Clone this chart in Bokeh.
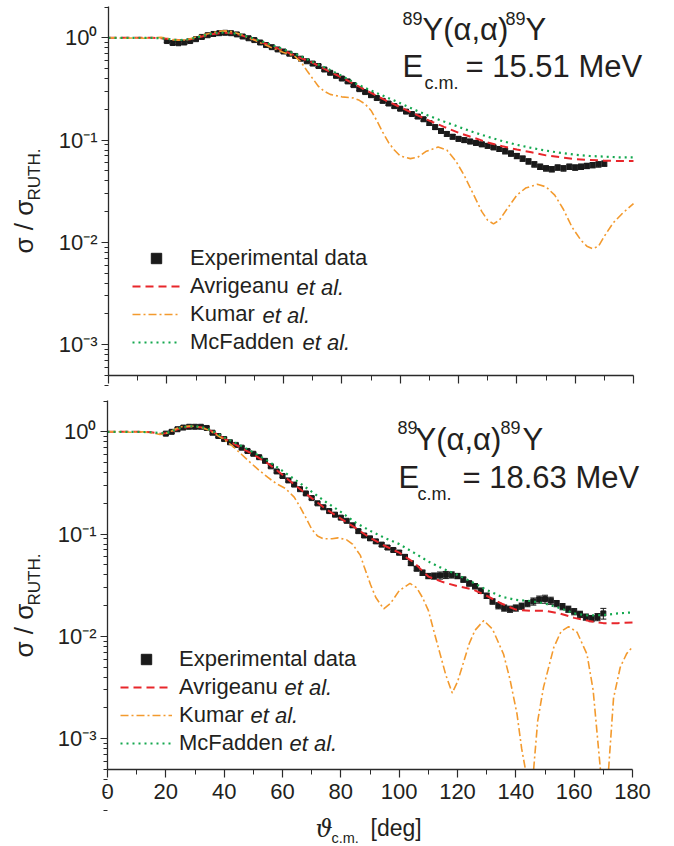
import numpy as np
from bokeh.plotting import figure
from bokeh.layouts import column
from bokeh.models import (ColumnDataSource, Whisker, TeeHead, Label, Legend, LegendItem,
                          FixedTicker, Range1d, CustomJSTickFormatter, LinearAxis, LogAxis)
from bokeh.embed import file_html
from bokeh.resources import INLINE

# ---------------- data ----------------
X_TICKS = [0, 20, 40, 60, 80, 100, 120, 140, 160, 180]
X_MINOR = [10, 30, 50, 70, 90, 110, 130, 150, 170]
Y_TICKS = [1e-3, 1e-2, 1e-1, 1.0]
Y_TICK_LABELS = ["10\u207b\u00b3", "10\u207b\u00b2", "10\u207b\u00b9", "10\u2070"]
Y_MINOR = [k * 10.0 ** e for e in (-4, -3, -2, -1, 0) for k in range(2, 10)]
X_LIMITS = (0, 180)
Y_LIMITS_LOG = (-3.3, 0.306)

# --- 15.51 MeV (top) experimental data
TOP_EXP_THETA = list(range(20, 172, 2))
TOP_EXP = [0.93, 0.89, 0.885, 0.90, 0.93, 0.97, 1.02, 1.06, 1.09, 1.11,
           1.12, 1.11, 1.08, 1.03, 0.99, 0.95, 0.90, 0.85, 0.81, 0.77,
           0.735, 0.70, 0.665, 0.625, 0.59, 0.56, 0.53, 0.49, 0.455, 0.425,
           0.40, 0.375, 0.345, 0.315, 0.295, 0.275, 0.258, 0.242, 0.228, 0.215,
           0.203, 0.19, 0.18, 0.17, 0.16, 0.147, 0.134, 0.123, 0.115, 0.108,
           0.103, 0.100, 0.097, 0.094, 0.091, 0.088, 0.085, 0.082, 0.078, 0.074,
           0.070, 0.066, 0.062, 0.058, 0.055, 0.053, 0.052, 0.054, 0.053, 0.055,
           0.054, 0.055, 0.056, 0.057, 0.058, 0.059]
TOP_ERR_PCT = [3, 3, 3, 3, 3, 3, 3, 3, 3, 3,
               3, 3, 3, 3, 3, 3, 3, 3, 3, 3,
               3, 3, 3, 3, 3, 3, 3, 3, 3, 3,
               3, 3, 3, 3, 3, 4, 4, 4, 4, 4,
               4, 4, 4, 4, 4, 5, 5, 5, 5, 5,
               5, 5, 5, 5, 5, 5, 5, 5, 6, 6,
               6, 6, 6, 6, 6, 6, 6, 6, 6, 6,
               6, 6, 6, 6, 6, 6]

TOP_AVR_THETA = [0, 5, 10, 15, 18, 20, 22, 24, 26, 28, 30, 32, 35, 38, 40, 42, 45, 48, 50, 55,
                 60, 65, 70, 75, 80, 85, 90, 95, 100, 105, 110, 115, 120, 125, 130, 135, 140,
                 145, 150, 155, 160, 165, 170, 175, 180]
TOP_AVR = [1.0, 1.0, 1.0, 1.0, 0.99, 0.98, 0.96, 0.95, 0.95, 0.97, 0.99, 1.03, 1.08, 1.11, 1.12,
           1.11, 1.07, 1.0, 0.96, 0.85, 0.75, 0.65, 0.57, 0.48, 0.41, 0.345, 0.29, 0.245, 0.21,
           0.18, 0.155, 0.135, 0.118, 0.106, 0.095, 0.087, 0.081, 0.076, 0.071, 0.068, 0.065,
           0.064, 0.063, 0.0625, 0.0624]
TOP_MCF_THETA = TOP_AVR_THETA
TOP_MCF = [1.0, 1.0, 1.0, 1.0, 0.99, 0.98, 0.96, 0.95, 0.955, 0.975, 1.0, 1.04, 1.09, 1.12, 1.13,
           1.12, 1.08, 1.02, 0.98, 0.87, 0.77, 0.68, 0.58, 0.5, 0.425, 0.355, 0.305, 0.265, 0.23,
           0.198, 0.172, 0.152, 0.135, 0.12, 0.108, 0.098, 0.09, 0.084, 0.079, 0.075, 0.072,
           0.07, 0.069, 0.068, 0.068]
TOP_KUM_THETA = [0, 3, 6, 9, 12, 15, 18, 20, 22, 24, 26, 28, 30, 32, 35, 38, 40, 42, 45, 48,
                 50, 53, 56, 60, 62, 64, 66, 68, 70, 72, 74, 76, 80, 84, 86, 88, 90, 92, 94, 96,
                 98, 100, 103.5, 106, 109, 113, 116, 119, 122, 125, 128, 130, 132, 134, 137,
                 140, 143, 147, 150, 153, 156, 159, 162, 164, 166, 168, 170, 173, 176, 180]
TOP_KUM = [1.0, 1.0, 0.99, 1.0, 0.99, 1.0, 1.01, 0.99, 0.96, 0.95, 0.955, 0.98, 1.02, 1.06, 1.11,
           1.16, 1.17, 1.15, 1.09, 1.0, 0.95, 0.87, 0.80, 0.72, 0.69, 0.655, 0.58, 0.48, 0.40,
           0.335, 0.30, 0.28, 0.265, 0.258, 0.245, 0.225, 0.195, 0.155, 0.12, 0.095, 0.08, 0.07,
           0.066, 0.068, 0.078, 0.0855, 0.08, 0.063, 0.045, 0.03, 0.02, 0.0165, 0.0152, 0.0165,
           0.022, 0.029, 0.034, 0.037, 0.035, 0.029, 0.021, 0.014, 0.0105, 0.0092, 0.0087,
           0.0092, 0.0115, 0.0155, 0.019, 0.024]

# --- 18.63 MeV (bottom) experimental data
BOT_EXP_THETA = list(range(20, 172, 2))
BOT_EXP = [0.96, 1.0, 1.06, 1.10, 1.12, 1.12, 1.12, 1.09, 0.98, 0.91,
           0.85, 0.79, 0.745, 0.70, 0.65, 0.61, 0.565, 0.52, 0.46, 0.41,
           0.37, 0.335, 0.305, 0.275, 0.25, 0.225, 0.20, 0.183, 0.168, 0.155,
           0.145, 0.135, 0.122, 0.107, 0.097, 0.091, 0.085, 0.079, 0.074, 0.07,
           0.066, 0.06, 0.052, 0.046, 0.042, 0.039, 0.039, 0.0395, 0.040, 0.040,
           0.039, 0.036, 0.033, 0.031, 0.028, 0.025, 0.022, 0.020, 0.019, 0.0185,
           0.019, 0.0198, 0.021, 0.022, 0.023, 0.0232, 0.0224, 0.021, 0.0196, 0.0185,
           0.0175, 0.0165, 0.0155, 0.015, 0.0155, 0.0168]
BOT_ERR_PCT = [3, 3, 3, 3, 3, 3, 3, 3, 3, 3,
               3, 3, 3, 3, 3, 3, 3, 3, 3, 3,
               3, 3, 3, 3, 3, 3, 3, 3, 3, 3,
               3, 3, 4, 4, 4, 4, 4, 4, 4, 4,
               5, 5, 5, 5, 6, 6, 7, 8, 8, 7,
               6, 6, 6, 6, 6, 6, 6, 7, 7, 7,
               7, 7, 7, 8, 8, 9, 8, 7, 7, 7,
               7, 7, 7, 7, 8, 12]

BOT_AVR_THETA = [0, 5, 10, 15, 18, 20, 22, 24, 26, 28, 30, 32, 35, 38, 40, 45, 50, 55, 60, 65,
                 70, 75, 80, 85, 90, 95, 100, 105, 110, 115, 120, 125, 130, 135, 140, 145, 150,
                 155, 160, 165, 170, 175, 180]
BOT_AVR = [1.0, 1.0, 1.0, 0.99, 0.96, 0.97, 1.01, 1.06, 1.1, 1.12, 1.12, 1.11, 1.04, 0.93, 0.86,
           0.72, 0.60, 0.49, 0.38, 0.29, 0.225, 0.175, 0.142, 0.115, 0.092, 0.077, 0.066, 0.053,
           0.0385, 0.034, 0.031, 0.029, 0.025, 0.021, 0.0183, 0.0178, 0.0178, 0.0168, 0.0152,
           0.0142, 0.0135, 0.0135, 0.0137]
BOT_MCF_THETA = BOT_AVR_THETA
BOT_MCF = [1.0, 1.0, 1.0, 0.99, 0.97, 0.97, 1.01, 1.07, 1.11, 1.13, 1.13, 1.12, 1.05, 0.95, 0.88,
           0.75, 0.63, 0.52, 0.415, 0.33, 0.26, 0.205, 0.165, 0.13, 0.108, 0.092, 0.08, 0.066,
           0.054, 0.046, 0.040, 0.034, 0.0285, 0.0245, 0.0228, 0.0222, 0.021, 0.019, 0.0168,
           0.016, 0.0162, 0.0168, 0.0172]
BOT_KUM_THETA = [0, 4, 8, 12, 16, 18, 20, 22, 24, 26, 28, 30, 32, 35, 38, 40, 43, 46, 49, 52,
                 55, 58, 61, 64, 66, 68, 70, 72, 74, 77, 79, 82, 84, 86.7, 88, 90.2, 92, 94.7,
                 97, 100, 103.7, 106, 108, 110, 112, 114, 116, 118.2, 120, 122, 124, 126, 129,
                 132, 135.8, 138, 140.4, 142, 143.3, 144.7, 146.1, 147.5, 149.5, 153, 155.5,
                 158.1, 161, 164.4, 166.5, 169, 170.4, 171.8, 173.5, 175.8, 178, 180]
BOT_KUM = [1.0, 1.0, 0.99, 1.0, 0.97, 0.94, 0.96, 1.02, 1.09, 1.13, 1.14, 1.13, 1.11, 1.03, 0.91,
           0.84, 0.72, 0.60, 0.50, 0.42, 0.358, 0.31, 0.28, 0.23, 0.185, 0.145, 0.112, 0.096,
           0.09, 0.09, 0.092, 0.088, 0.08, 0.062, 0.048, 0.032, 0.024, 0.0186, 0.021, 0.028,
           0.033, 0.030, 0.024, 0.018, 0.011, 0.0068, 0.0042, 0.0028, 0.0036, 0.0055, 0.0085,
           0.0115, 0.0143, 0.0118, 0.0067, 0.0038, 0.00175, 0.0008, 0.0005, 0.0001, 0.0005,
           0.0015, 0.0032, 0.0078, 0.0112, 0.0125, 0.011, 0.0067, 0.003, 0.0005, 0.0001,
           0.0005, 0.0025, 0.005, 0.0068, 0.0079]

LEGEND_LABELS = ["Experimental data", "Avrigeanu", "Kumar", "McFadden"]
REACTION = ("89", "Y(\u03b1,\u03b1)", "89", "Y")
ENERGIES = ["15.51", "18.63"]

# ---------------- style ----------------
FONT = "Liberation Sans"
TXT = "#231f20"
RED = "#e8262b"
ORANGE = "#f39a2e"
GREEN = "#14a84f"
BLACK = "#1a1a1a"
AX = "#2a2a2a"
W = 674
MID = 0.3465   # distance (in em) from the baseline to the middle of the text box


def txt(p, sx, sy, text, size, style="normal", font=FONT, angle=0):
    """(sx, sy): start of the text baseline, screen px (y measured up from canvas bottom)."""
    if angle == 0:
        x, y = sx, sy + MID * size
    else:
        x, y = sx - MID * size, sy
    p.add_layout(Label(x=x, y=y, x_units="screen", y_units="screen", text=text,
                       text_font=font, text_font_size=f"{size}px", text_font_style=style,
                       text_color=TXT, text_align="left", text_baseline="middle",
                       angle=angle, angle_units="deg"))


def etal(p, sx, sy):
    p.add_layout(Label(x=sx, y=sy, x_units="screen", y_units="screen", text="et al.",
                       text_font=FONT, text_font_size="22px", text_font_style="italic",
                       text_color=TXT, text_align="left", text_baseline="middle"))


def clip_below(t, v, floor_log):
    """Break a log-scale curve where it dips below the lower axis (crossings interpolated)."""
    lt = np.log10(np.asarray(v, float))
    t = np.asarray(t, float)
    xs, ys = [], []
    for i in range(len(t)):
        if i > 0 and (lt[i - 1] >= floor_log) != (lt[i] >= floor_log):
            f = (floor_log - lt[i - 1]) / (lt[i] - lt[i - 1])
            xs.append(t[i - 1] + f * (t[i] - t[i - 1]))
            ys.append(10 ** floor_log)
            if lt[i] < floor_log:
                xs.append(np.nan)
                ys.append(np.nan)
        if lt[i] >= floor_log:
            xs.append(t[i])
            ys.append(10 ** lt[i])
    return xs, ys


def panel(height, fl, fr, ft, fb, exp_t, exp_v, err, avr_t, avr_v, kum_t, kum_v,
          mcf_t, mcf_v, show_xlabels):
    # fl, fr: pixel of x=0 / x=180 ; ft, fb: pixel of the top / bottom of the y axis
    ppx = (fr - fl) / (X_LIMITS[1] - X_LIMITS[0])
    ppy = (fb - ft) / (Y_LIMITS_LOG[1] - Y_LIMITS_LOG[0])
    x0 = X_LIMITS[0] - fl / ppx
    x1 = X_LIMITS[1] + (W - fr) / ppx
    y1 = Y_LIMITS_LOG[1] + ft / ppy
    y0 = Y_LIMITS_LOG[0] - (height - fb) / ppy
    p = figure(width=W, height=height, y_axis_type="log", output_backend="svg",
               toolbar_location=None, x_range=Range1d(x0, x1),
               y_range=Range1d(10 ** y0, 10 ** y1),
               x_axis_location=None, y_axis_location=None, min_border=0)
    p.outline_line_color = None
    p.background_fill_color = "white"
    p.grid.visible = False

    xax = LinearAxis(fixed_location=10 ** Y_LIMITS_LOG[0], bounds=X_LIMITS,
                     ticker=FixedTicker(ticks=X_TICKS, minor_ticks=X_MINOR))
    yax = LogAxis(fixed_location=X_LIMITS[0],
                  bounds=(10 ** Y_LIMITS_LOG[0], 10 ** Y_LIMITS_LOG[1]),
                  ticker=FixedTicker(ticks=Y_TICKS, minor_ticks=Y_MINOR))
    yax.formatter = CustomJSTickFormatter(
        args=dict(tvals=Y_TICKS, tlabels=Y_TICK_LABELS), code="""
        for (let i = 0; i < tvals.length; i++) {
            if (Math.abs(Math.log10(tick) - Math.log10(tvals[i])) < 1e-6) { return tlabels[i]; }
        }
        return "";
    """)
    if not show_xlabels:
        xax.formatter = CustomJSTickFormatter(code="return '';")
    for ax in (xax, yax):
        ax.axis_line_color = AX
        ax.axis_line_width = 1.3
        ax.major_tick_line_color = AX
        ax.minor_tick_line_color = AX
        ax.major_tick_line_width = 1.2
        ax.minor_tick_line_width = 1.0
        ax.major_tick_in = 0
        ax.minor_tick_in = 0
        ax.major_label_text_font = FONT
        ax.major_label_text_color = TXT
        ax.major_label_text_font_size = "22px"
    xax.major_tick_out = 8
    xax.minor_tick_out = 5
    yax.major_tick_out = 7
    yax.minor_tick_out = 4
    yax.major_label_standoff = 4
    xax.major_label_standoff = 6
    p.add_layout(xax, "below")
    p.add_layout(yax, "left")

    # experimental data
    up = [v * (1 + e / 100.0) for v, e in zip(exp_v, err)]
    lo = [v * (1 - e / 100.0) for v, e in zip(exp_v, err)]
    src = ColumnDataSource(dict(x=exp_t, y=exp_v, upper=up, lower=lo))
    p.add_layout(Whisker(source=src, base="x", upper="upper", lower="lower",
                         line_color=BLACK, line_width=1,
                         upper_head=TeeHead(size=6, line_color=BLACK, line_width=1),
                         lower_head=TeeHead(size=6, line_color=BLACK, line_width=1)))
    r_exp = p.scatter("x", "y", source=src, marker="square", size=5, fill_color=BLACK,
                      line_color=BLACK)

    r_avr = p.line(avr_t, avr_v, line_color=RED, line_width=2, line_dash="8 5")
    kx, ky = clip_below(kum_t, kum_v, Y_LIMITS_LOG[0])
    r_kum = p.line(kx, ky, line_color=ORANGE, line_width=1.6, line_dash="8 3 2 3")
    r_mcf = p.line(mcf_t, mcf_v, line_color=GREEN, line_width=2.2, line_dash="2 4")

    return p, [r_exp, r_avr, r_kum, r_mcf]


def add_legend(p, rends, vx, vy, glyph_w, standoff):
    items = [LegendItem(label=l, renderers=[r]) for l, r in zip(LEGEND_LABELS, rends)]
    lg = Legend(items=items, location=(vx, vy), orientation="vertical",
                border_line_color=None, background_fill_alpha=0, padding=0, margin=0,
                spacing=2, glyph_width=glyph_w, glyph_height=26, label_height=26,
                label_standoff=standoff, label_text_font=FONT, label_text_font_size="22px",
                label_text_color=TXT)
    p.add_layout(lg)


# ---------------- top panel (15.51 MeV) ----------------
H1 = 390
top, rt = panel(H1, 108, 633, 6, 375, TOP_EXP_THETA, TOP_EXP, TOP_ERR_PCT,
                TOP_AVR_THETA, TOP_AVR, TOP_KUM_THETA, TOP_KUM, TOP_MCF_THETA, TOP_MCF, False)
add_legend(top, rt, 132, 35, 48, 10)
# screen coordinates: x from left, y up from the bottom of this canvas
for sx, sy in ((296, 103), (262, 75), (302, 48)):
    etal(top, sx, sy)
txt(top, 402, 366, REACTION[0], 18)
txt(top, 422, 350, REACTION[1], 31)
txt(top, 505, 366, REACTION[2], 18)
txt(top, 525, 350, REACTION[3], 31)
txt(top, 402, 313, "E", 31)
txt(top, 424, 301, "c.m.", 18)
txt(top, 465, 313, "= " + ENERGIES[0] + " MeV", 31)
txt(top, 33, 137, "\u03c3 / \u03c3", 26, angle=90)
txt(top, 40, 190, "RUTH.", 17, angle=90)

# ---------------- bottom panel (18.63 MeV) ----------------
H2 = 456
bot, rb = panel(H2, 107, 632, 10, 379, BOT_EXP_THETA, BOT_EXP, BOT_ERR_PCT,
                BOT_AVR_THETA, BOT_AVR, BOT_KUM_THETA, BOT_KUM, BOT_MCF_THETA, BOT_MCF, True)
add_legend(bot, rb, 120, 90, 52, 7)
for sx, sy in ((284, 159), (250, 131), (289, 103)):
    etal(bot, sx, sy)
txt(bot, 397, 413, REACTION[0], 18)
txt(bot, 415, 396, REACTION[1], 31)
txt(bot, 500, 413, REACTION[2], 18)
txt(bot, 522, 396, REACTION[3], 31)
txt(bot, 398, 358, "E", 31)
txt(bot, 417, 346, "c.m.", 18)
txt(bot, 462, 358, "= " + ENERGIES[1] + " MeV", 31)
txt(bot, 33, 189, "\u03c3 / \u03c3", 26, angle=90)
txt(bot, 40, 241, "RUTH.", 17, angle=90)
txt(bot, 315, 9, "\u03d1", 24, style="italic", font="DejaVu Serif")
txt(bot, 331, 3, "c.m.", 14.5)
txt(bot, 370, 11, "[deg]", 23)

layout = column(top, bot, spacing=0)
open("out.html", "w").write(file_html(layout, INLINE))
